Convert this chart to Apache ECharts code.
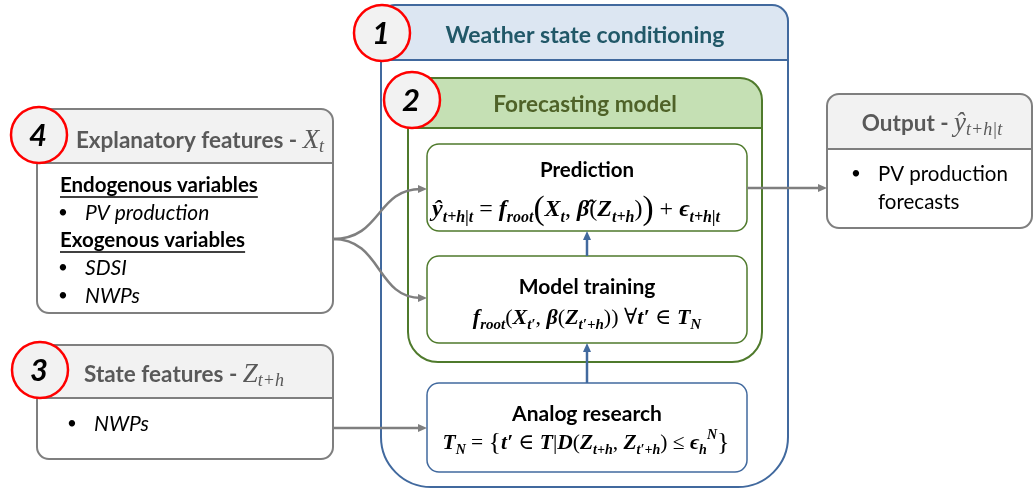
<!DOCTYPE html>
<html>
<head>
<meta charset="utf-8">
<script src="https://cdn.jsdelivr.net/npm/echarts@6/dist/echarts.min.js"></script>
<style>
  html, body { margin: 0; padding: 0; background: #fff; }
  #main { width: 1034px; height: 489px; }
</style>
</head>
<body>
<div id="main"></div>
<script>
// texts of the diagram
let stepNumbers = ['1', '2', '4', '3']
let frameTitles = ['Weather state conditioning', 'Forecasting model']
let stepTitles = ['Prediction', 'Model training', 'Analog research']
let listHeadings = ['Endogenous variables', 'Exogenous variables']
let endoItems = ['PV production']
let exoItems = ['SDSI', 'NWPs']
let stateItems = ['NWPs']
let outputItems = ['PV production', 'forecasts']
let sideTitles = [
  '{h|Explanatory features - }{hm|X}{hs|t}',
  '{h|State features - }{hm|Z}{hs|t+h}',
  '{h|Output - }{hm|ŷ}{hs|t+h|t}'
]
let formulas = [
  '{m|ŷ}{s|t+h|t}{o| = }{m|f}{s|root}{bp|(}{m|X}{s|t}{o|, }{m|β̂}{o|(}{m|Z}{s|t+h}{o|)}{bp|)}{o| + }{m|ϵ}{s|t+h|t}',
  '{m|f}{s|root}{o|(}{m|X}{s|t′}{o|, }{m|β}{o|(}{m|Z}{s|t′+h}{o|))}{o| ∀}{m|t′}{o| ∈ }{m|T}{s|N}',
  '{m|T}{s|N}{o| = }{{m|t′}{o| ∈ }{m|T}{o||}{m|D}{o|(}{m|Z}{s|t+h}{o|, }{m|Z}{s|t′+h}{o|) ≤ }{m|ϵ}{s|h}{sup|N}}'
]

let sans = 'Lato, "Open Sans", sans-serif'
let serif = '"Liberation Serif", "DejaVu Serif", serif'
let blue = '#41699e'
let green = '#4f7a2c'
let grey = '#7f7f7f'

let measure = (text, font) => {
  let ctx = document.createElement('canvas').getContext('2d')
  ctx.font = font
  return ctx.measureText(text).width
}

// rich styles of a formula, scaled from its main font size
let mathRich = (size) => {
  let lh = Math.round(size * 1.35)
  let sub = Math.round(size * 0.66)
  let bi = {fontFamily: serif, fontWeight: 'bold', fontStyle: 'italic', fill: '#000'}
  return {
    m: Object.assign({fontSize: size, lineHeight: lh, verticalAlign: 'middle'}, bi),
    s: Object.assign({fontSize: sub, lineHeight: sub + 3, verticalAlign: 'bottom'}, bi),
    sup: Object.assign({fontSize: sub, lineHeight: sub + 3, verticalAlign: 'top'}, bi),
    o: {fontFamily: serif, fontSize: size, fill: '#000', lineHeight: lh, verticalAlign: 'middle'},
    bp: {fontFamily: serif, fontSize: size * 1.4, fill: '#000', lineHeight: lh, verticalAlign: 'middle'}
  }
}
let titleRich = {
  h: {fontFamily: sans, fontSize: 22.5, fontWeight: 'bold', fill: '#595959', lineHeight: 30, verticalAlign: 'middle'},
  hm: {fontFamily: serif, fontSize: 27, fontStyle: 'italic', fill: '#595959', lineHeight: 30, verticalAlign: 'middle'},
  hs: {fontFamily: serif, fontSize: 18, fontStyle: 'italic', fill: '#595959', lineHeight: 19, verticalAlign: 'bottom'}
}

let els = []

// box with a filled header band
let box = (x, y, w, h, r, headH, headFill, stroke, lw, z) => {
  if (headH) {
    els.push({type: 'rect', z: z, shape: {x: x, y: y, width: w, height: headH, r: [r[0], r[1], 0, 0]}, style: {fill: headFill}})
    els.push({type: 'line', z: z + 1, shape: {x1: x, y1: y + headH, x2: x + w, y2: y + headH}, style: {stroke: stroke, lineWidth: lw}})
  }
  els.push({type: 'rect', z: z + 1, shape: {x: x, y: y, width: w, height: h, r: r}, style: {fill: 'none', stroke: stroke, lineWidth: lw}})
}

let text = (x, y, t, font, fill, align, z) => {
  els.push({type: 'text', z: z || 10, x: x, y: y, style: {text: t, font: font, fill: fill || '#000', align: align || 'center', verticalAlign: 'middle'}})
}

let rich = (x, y, t, r, baseSize) => {
  els.push({type: 'text', z: 10, x: x, y: y, style: {text: t, rich: r, font: baseSize + 'px ' + serif, fill: '#000', align: 'center', verticalAlign: 'middle'}})
}

let head = (x1, y1, x2, y2, color, len, wid) => {
  let a = Math.atan2(y2 - y1, x2 - x1)
  let px = -Math.sin(a), py = Math.cos(a)
  let bx = x2 - Math.cos(a) * len, by = y2 - Math.sin(a) * len
  els.push({type: 'polygon', z: 12, shape: {points: [[x2, y2], [bx + px * wid / 2, by + py * wid / 2], [bx - px * wid / 2, by - py * wid / 2]]}, style: {fill: color}})
}

let arrow = (x1, y1, x2, y2, color) => {
  let a = Math.atan2(y2 - y1, x2 - x1)
  els.push({type: 'line', z: 12, shape: {x1: x1, y1: y1, x2: x2 - Math.cos(a) * 6, y2: y2 - Math.sin(a) * 6}, style: {stroke: color, lineWidth: 2.5}})
  head(x1, y1, x2, y2, color, 9, 8)
}

let curve = (x1, y1, x2, y2) => {
  let mx = (x1 + x2) / 2
  els.push({type: 'bezierCurve', z: 12, shape: {x1: x1, y1: y1, cpx1: mx + 2, cpy1: y1, cpx2: mx - 4, cpy2: y2, x2: x2 - 6, y2: y2}, style: {stroke: grey, lineWidth: 2.5, fill: 'none'}})
  head(x2 - 10, y2, x2, y2, grey, 9, 8)
}

let badge = (cx, cy, n) => {
  els.push({type: 'circle', z: 20, shape: {cx: cx, cy: cy, r: 28}, style: {fill: '#f2f2f2', stroke: '#ff0000', lineWidth: 2.5}})
  text(cx - 1, cy + 1, n, 'italic bold 31px ' + sans, '#000', 'center', 21)
}

let bullets = (x, y, items, font, step) => {
  items.forEach((t, i) => {
    text(x, y + i * step, '•', '17px ' + sans, '#000', 'center')
    text(x + 22, y + i * step, t, font, '#000', 'left')
  })
}

let heading = (x, y, t) => {
  let font = 'bold 20.5px ' + sans
  text(x, y, t, font, '#000', 'left')
  els.push({type: 'line', z: 10, shape: {x1: x, y1: y + 12, x2: x + measure(t, font), y2: y + 12}, style: {stroke: '#000', lineWidth: 1.5}})
}

// frames
box(381, 5, 407, 482, [14, 16, 50, 50], 55, '#dce6f2', blue, 2, 1)
box(408, 78, 354, 284, [20, 22, 30, 30], 50, '#c5e0b4', green, 2, 3)
box(427, 144, 320, 87, [12, 12, 12, 12], 0, null, green, 1.5, 5)
box(427, 256, 320, 87, [12, 12, 12, 12], 0, null, green, 1.5, 5)
box(427, 383, 320, 89, [12, 12, 12, 12], 0, null, blue, 1.5, 5)
box(37, 109, 296, 204, [12, 12, 12, 12], 54, '#f2f2f2', grey, 2, 5)
box(37, 345, 296, 114, [12, 12, 12, 12], 53, '#f2f2f2', grey, 2, 5)
box(827, 94, 205, 134, [12, 12, 12, 12], 55, '#f2f2f2', grey, 2, 5)

// titles
text(585, 36, frameTitles[0], 'bold 23px ' + sans, '#215868')
text(585, 105, frameTitles[1], 'bold 22.5px ' + sans, '#4f6228')
text(587, 170, stepTitles[0], 'bold 20.5px ' + sans)
text(587, 287, stepTitles[1], 'bold 21px ' + sans)
text(587, 414, stepTitles[2], 'bold 21px ' + sans)
rich(200, 141, sideTitles[0], titleRich, 22)
rich(184, 375, sideTitles[1], titleRich, 22)
rich(932, 124, sideTitles[2], titleRich, 22)

// formulas
rich(576, 210, formulas[0], mathRich(24), 29)
rich(587, 318, formulas[1], mathRich(22), 27)
rich(586, 443, formulas[2], mathRich(21.5), 26)

// lists
heading(60, 185, listHeadings[0])
bullets(63, 213, endoItems, 'italic 21px ' + sans, 28)
heading(60, 240, listHeadings[1])
bullets(63, 268, exoItems, 'italic 21px ' + sans, 28)
bullets(72, 424, stateItems, 'italic 21px ' + sans, 28)
bullets(856, 174, outputItems.slice(0, 1), '20.5px ' + sans, 28)
text(878, 202, outputItems[1], '20.5px ' + sans, '#000', 'left')

// connectors
curve(333, 239, 427, 189)
curve(333, 239, 427, 298)
arrow(333, 428, 427, 428, grey)
arrow(747, 188, 827, 188, grey)
arrow(587, 256, 587, 231, blue)
arrow(587, 383, 587, 343, blue)

// numbered badges
badge(382, 33, stepNumbers[0])
badge(412, 100, stepNumbers[1])
badge(39, 135, stepNumbers[2])
badge(40, 370, stepNumbers[3])

let myChart = echarts.init(document.getElementById('main'), null, {renderer: 'canvas'})
myChart.setOption({
  backgroundColor: '#fff',
  animation: false,
  graphic: {elements: els}
})
</script>
</body>
</html>
